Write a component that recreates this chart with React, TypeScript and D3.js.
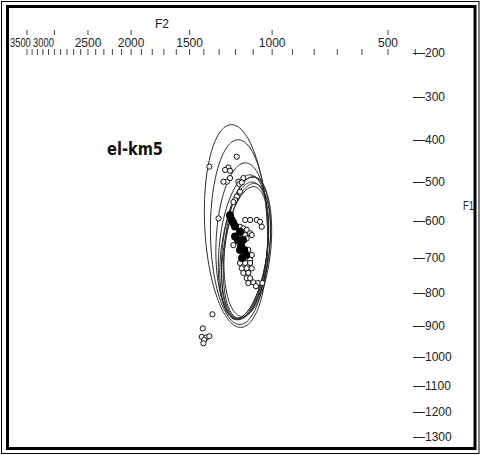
import React from "react";
import * as d3 from "d3";

// Formant measurements (Hz) for the vowel token set "el-km5"
const openF2 = [1193, 1363, 1243, 1263, 1233, 1252, 1273, 1233, 1184, 1155, 1178, 1164, 1174, 1193, 1203, 1213,
  1304, 1145, 1117, 1081, 1063, 1054, 1174, 1155, 1136, 1164, 1145, 1117, 1184, 1213, 1136, 1108,
  1127, 1108, 1136, 1117, 1174, 1145, 1117, 1164, 1136, 1108, 1155, 1127, 1136, 1117, 1127, 1099,
  1073, 1051, 1085, 1343, 1407, 1414, 1384, 1363, 1398, 1403];
const openF1 = [439, 463, 465, 471, 473, 500, 500, 491, 500, 491, 506, 502, 525, 537, 546, 551,
  593, 597, 597, 597, 602, 615, 615, 619, 623, 632, 637, 632, 642, 664, 646, 637,
  677, 691, 695, 704, 713, 713, 713, 728, 728, 728, 741, 741, 756, 756, 770, 768,
  770, 770, 779, 863, 907, 934, 936, 932, 944, 955];

// Speaker means (filled markers)
const meanF2 = [1233, 1223, 1213, 1203, 1203, 1174, 1186, 1157, 1168, 1150, 1139, 1162, 1174];
const meanF1 = [585, 597, 605, 614, 641, 628, 650, 650, 664, 677, 691, 699, 677];

// Dispersion ellipses: centre (Hz), semi-axes (Bark), tilt of major axis (deg)
const ellF2 = [1197, 1180, 1163, 1140, 1150, 1135, 1155, 1145, 1130];
const ellF1 = [613, 629, 653, 672, 678, 680, 670, 684, 668];
const ellA = [2.19, 1.99, 1.69, 1.55, 1.5, 1.48, 1.58, 1.45, 1.52];
const ellB = [1.02, 0.93, 0.84, 0.76, 0.74, 0.72, 0.78, 0.7, 0.75];
const ellTilt = [-5, -1, 5, 11, 13, 12, 10, 14, 9];

const f2Labels = [500, 1000, 1500, 2000, 2500, 3000, 3500];
const f2Minor = d3.range(400, 3501, 100);
const f1Labels = d3.range(200, 1301, 100);

const W = 480;
const H = 455;
const FONT = "'Liberation Sans', Arial, sans-serif";
const FS = 12;
const SQUEEZE = 0.78;

// Zwicker critical-band rate
const bark = (f: number) => 13 * Math.atan(0.00076 * f) + 3.5 * Math.atan((f / 7500) ** 2);

const x = d3.scaleLinear().domain([bark(3500), bark(500)]).range([27, 388]);
const y = d3.scaleLinear().domain([bark(200), bark(1300)]).range([53, 437]);

function ellipsePath(i: number): string {
  const z2 = bark(ellF2[i]);
  const z1 = bark(ellF1[i]);
  const th = (ellTilt[i] * Math.PI) / 180;
  const a = ellA[i];
  const b = ellB[i];
  const pts: [number, number][] = d3.range(0, 144).map((k) => {
    const t = (k / 144) * Math.PI * 2;
    const d2 = a * Math.cos(t) * Math.sin(th) + b * Math.sin(t) * Math.cos(th);
    const d1 = a * Math.cos(t) * Math.cos(th) - b * Math.sin(t) * Math.sin(th);
    return [x(z2 + d2), y(z1 + d1)];
  });
  return d3.line().curve(d3.curveLinearClosed)(pts) || "";
}

export default function App() {
  // crowded tick labels at the high end are squeezed and right-aligned
  const labelInfo = f2Labels.map((v, i) => {
    const px = x(bark(v));
    const next = i > 0 ? x(bark(f2Labels[i - 1])) : Infinity;
    const crowded = next - px < 36;
    return { v, px, crowded };
  });
  const smallW = 4 * 0.556 * FS * SQUEEZE;

  return (
    <svg width={W} height={H} style={{ position: "absolute", left: 0, top: 0, background: "#fff" }}>
      <rect x={0} y={0} width={W} height={H} fill="#fff" />
      <rect x={1.5} y={1.5} width={477.5} height={452} fill="none" stroke="#000" strokeWidth={1} />
      <rect x={7.5} y={6.5} width={467.5} height={442} fill="none" stroke="#000" strokeWidth={3} />

      {/* F2 axis along the top */}
      <text x={155} y={28} fontFamily={FONT} fontSize={FS} fill="#222">F2</text>
      {f2Minor.map((v) => (
        <line key={"m" + v} x1={x(bark(v))} x2={x(bark(v))} y1={49} y2={55} stroke="#444" strokeWidth={1} />
      ))}
      {labelInfo.map(({ v, px }) => (
        <line key={"M" + v} x1={px} x2={px} y1={30} y2={35} stroke="#444" strokeWidth={1} />
      ))}
      {labelInfo.map(({ v, px, crowded }) => {
        if (!crowded) {
          return (
            <text key={"l" + v} x={px} y={47} textAnchor="middle" fontFamily={FONT} fontSize={FS} fill="#222">
              {v}
            </text>
          );
        }
        const left = Math.max(10, px - smallW - 0.5);
        return (
          <text key={"l" + v} transform={`translate(${left},47) scale(${SQUEEZE},1)`}
            fontFamily={FONT} fontSize={FS} fill="#222">
            {v}
          </text>
        );
      })}

      {/* F1 axis on the right */}
      <text x={463} y={210} textLength={11} lengthAdjust="spacingAndGlyphs" fontFamily={FONT} fontSize={FS} fill="#222">F1</text>
      {f1Labels.map((v) => (
        <text key={"f1" + v} x={413} y={y(bark(v)) + 4} fontFamily={FONT} fontSize={FS} fill="#222">
          {"\u2014" + v}
        </text>
      ))}

      {/* category label */}
      <text x={107} y={155} fontFamily="'DejaVu Sans Condensed', 'DejaVu Sans', sans-serif" fontWeight="bold"
        fontSize={17.5} textLength={56} lengthAdjust="spacingAndGlyphs" fill="#111">
        el-km5
      </text>

      {/* ellipses */}
      {ellF2.map((_, i) => (
        <path key={"e" + i} d={ellipsePath(i)} fill="none" stroke="#2a2a2a" strokeWidth={1} />
      ))}

      {/* individual tokens */}
      {openF2.map((f2, i) => (
        <circle key={"o" + i} cx={x(bark(f2))} cy={y(bark(openF1[i]))} r={2.6} fill="#fff" stroke="#111" strokeWidth={1} />
      ))}

      {/* means */}
      {meanF2.map((f2, i) => (
        <circle key={"f" + i} cx={x(bark(f2))} cy={y(bark(meanF1[i]))} r={4} fill="#000" />
      ))}
    </svg>
  );
}
